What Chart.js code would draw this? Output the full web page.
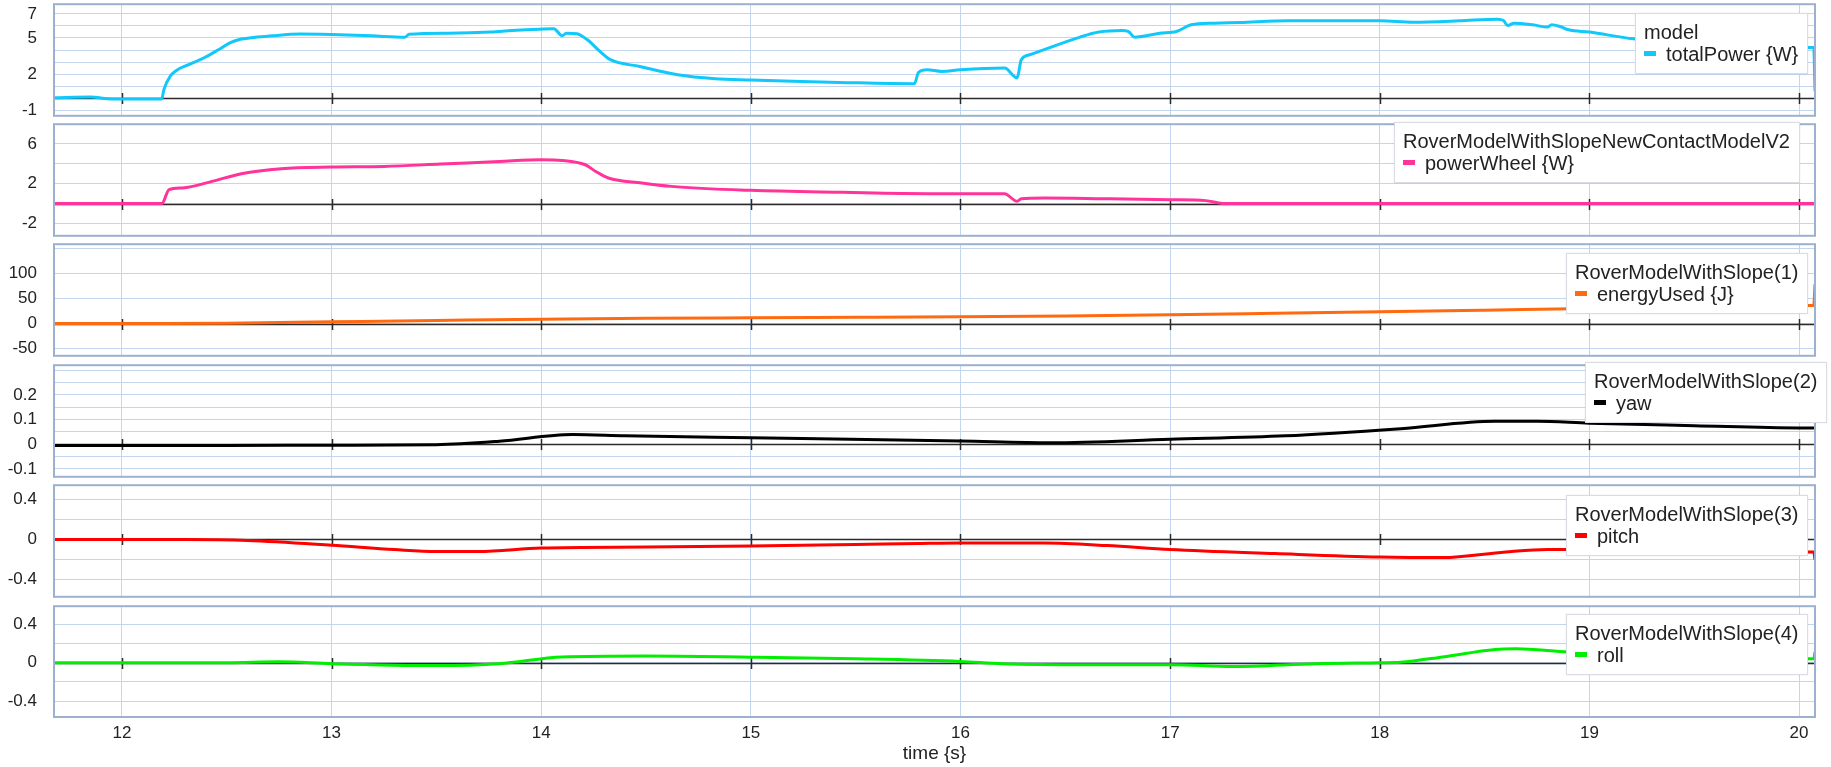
<!DOCTYPE html>
<html>
<head>
<meta charset="utf-8">
<script src="https://cdn.jsdelivr.net/npm/chart.js@4/dist/chart.umd.min.js"></script>
<style>
  html, body { margin: 0; padding: 0; background: #fff; }
  body { width: 1831px; height: 767px; position: relative; overflow: hidden;
         font-family: "Liberation Sans", Arial, sans-serif; }
  canvas { position: absolute; }
  .lg { position: absolute; background: #fff; border: 1px solid #d9dde3;
        box-shadow: 0 0 2px rgba(0,0,0,0.08);
        font-size: 20px; line-height: 22px; color: #222; padding: 7px 9px 8px 8px;
        white-space: nowrap; box-sizing: border-box; }
  .lg .sw { display: inline-block; width: 12px; height: 5px; margin-right: 10px; vertical-align: 5px; }
</style>
</head>
<body>
<script>
// ---- time axis ----
const timeTicks = [12, 13, 14, 15, 16, 17, 18, 19, 20];
const timeMin = 11.676, timeMax = 20.076;

// ---- model.totalPower {W} ----
const totalPowerT = [11.676, 11.85, 11.95, 12.19, 12.20, 12.23, 12.26, 12.31, 12.39, 12.46, 12.52, 12.57, 12.72, 12.85, 13.0, 13.19, 13.35, 13.37, 13.56, 13.76, 13.86, 13.99, 14.06, 14.10, 14.12, 14.17, 14.22, 14.28, 14.33, 14.47, 14.65, 14.83, 15.0, 15.2, 15.42, 15.78, 15.80, 15.84, 15.91, 16.0, 16.21, 16.27, 16.29, 16.33, 16.57, 16.66, 16.77, 16.80, 16.83, 16.95, 17.03, 17.1, 17.21, 17.33, 17.56, 18.0, 18.16, 18.38, 18.56, 18.59, 18.61, 18.64, 18.73, 18.80, 18.82, 18.86, 18.9, 19.0, 19.21, 19.5, 19.8, 20.04, 20.07, 20.076];
const totalPowerW = [0.05, 0.1, -0.05, -0.05, 0.72, 1.82, 2.31, 2.73, 3.34, 4.02, 4.63, 4.91, 5.18, 5.32, 5.28, 5.18, 5.07, 5.3, 5.4, 5.5, 5.62, 5.73, 5.76, 5.18, 5.4, 5.35, 4.85, 3.89, 3.2, 2.64, 1.96, 1.63, 1.52, 1.41, 1.32, 1.21, 2.15, 2.37, 2.23, 2.37, 2.51, 1.69, 3.2, 3.61, 5.07, 5.49, 5.62, 5.55, 5.07, 5.4, 5.54, 6.09, 6.23, 6.28, 6.42, 6.42, 6.31, 6.42, 6.56, 6.45, 6.03, 6.23, 6.09, 5.9, 6.1, 5.95, 5.68, 5.49, 4.93, 4.65, 4.4, 4.22, 4.22, 0.58];

// ---- RoverModelWithSlopeNewContactModelV2.powerWheel {W} ----
const powerWheelT = [11.676, 12.19, 12.225, 12.29, 12.43, 12.57, 12.76, 13.0, 13.25, 13.52, 13.8, 14.0, 14.1, 14.21, 14.26, 14.32, 14.48, 14.62, 15.0, 15.44, 15.85, 16.21, 16.27, 16.29, 16.4, 16.68, 17.0, 17.17, 17.25, 17.3, 20.076];
const powerWheelW = [0, 0, 1.4, 1.57, 2.23, 3.0, 3.5, 3.67, 3.73, 3.97, 4.23, 4.4, 4.33, 3.9, 3.23, 2.57, 2.07, 1.73, 1.33, 1.13, 1.0, 1.0, 0.23, 0.5, 0.57, 0.5, 0.4, 0.3, 0.02, 0, 0];

// ---- RoverModelWithSlope(1).energyUsed {J} ----
const energyT = [11.676, 12.2, 12.5, 13.0, 13.5, 14.0, 14.5, 15.0, 15.5, 16.0, 16.5, 17.0, 17.5, 18.0, 18.5, 19.0, 19.5, 20.04, 20.07, 20.076];
const energyJ = [0, 0, 0.8, 3.5, 6.2, 8.8, 10.6, 11.6, 12.4, 13.4, 15.0, 17.5, 20.5, 23.6, 26.8, 30.0, 32.8, 36, 36, 79];

// ---- RoverModelWithSlope(2).yaw ----
const yawT = [11.676, 12.5, 13.0, 13.5, 13.8, 14.15, 14.4, 15.0, 15.32, 16.0, 16.43, 17.0, 17.55, 18.1, 18.55, 18.75, 19.0, 19.5, 20.0, 20.076];
const yawV = [-0.005, -0.005, -0.004, -0.002, 0.012, 0.039, 0.034, 0.026, 0.022, 0.013, 0.006, 0.02, 0.034, 0.063, 0.093, 0.093, 0.085, 0.075, 0.066, 0.066];

// ---- RoverModelWithSlope(3).pitch ----
const pitchT = [11.676, 12.3, 12.6, 13.0, 13.3, 13.5, 13.7, 14.0, 14.5, 15.0, 15.5, 15.8, 16.0, 16.4, 16.7, 17.0, 17.5, 18.0, 18.3, 18.6, 18.8, 19.0, 19.5, 20.04, 20.07, 20.076];
const pitchV = [0, 0, -0.01, -0.057, -0.1, -0.12, -0.12, -0.085, -0.075, -0.065, -0.05, -0.04, -0.035, -0.035, -0.06, -0.1, -0.14, -0.174, -0.18, -0.124, -0.1, -0.1, -0.11, -0.124, -0.124, -0.2];

// ---- RoverModelWithSlope(4).roll ----
const rollT = [11.676, 12.5, 12.75, 13.0, 13.5, 13.8, 14.1, 14.5, 15.0, 15.5, 16.0, 16.2, 16.6, 17.0, 17.3, 17.7, 18.0, 18.1, 18.3, 18.55, 18.65, 18.9, 19.2, 19.6, 20.04, 20.07, 20.076];
const rollV = [0, 0, 0.01, -0.01, -0.03, -0.01, 0.06, 0.07, 0.058, 0.041, 0.013, -0.01, -0.02, -0.02, -0.04, -0.01, 0.0, 0.005, 0.06, 0.138, 0.145, 0.11, 0.09, 0.06, 0.04, 0.04, 0.11];

// ---- value-axis grid values and labelled ticks per plot ----
const powerGrid = [-1, 0, 1, 2, 3, 4, 5, 6, 7];
const powerLabels = [7, 5, 2, -1];
const wheelGrid = [-2, 0, 2, 4, 6];
const wheelLabels = [6, 2, -2];
const energyGrid = [-50, 0, 50, 100, 150];
const energyLabels = [100, 50, 0, -50];
const yawGrid = [-0.1, -0.05, 0, 0.05, 0.1, 0.15, 0.2, 0.25, 0.3];
const yawLabels = [0.2, 0.1, 0, -0.1];
const angleGrid = [-0.4, -0.2, 0, 0.2, 0.4];
const angleLabels = [0.4, 0, -0.4];

const pair = (ts, vs) => ts.map((t, i) => ({ x: t, y: vs[i] }));

const FONT = '"Liberation Sans", Arial, sans-serif';
const GRID = '#c3d6ee';
const FRAME = '#9cb1cf';
const AREA_LEFT = 54, AREA_RIGHT = 1815, PAGE_H = 767;

const plots = [
  { top: 4,   bottom: 116, min: -1.45, max: 7.8,  grid: powerGrid,  labels: powerLabels,  data: pair(totalPowerT, totalPowerW), color: '#10c8fa',
    legend: { title: 'model', item: 'totalPower {W}', left: 1635, top: 13 } },
  { top: 124, bottom: 236, min: -3.23, max: 7.97, grid: wheelGrid,  labels: wheelLabels,  data: pair(powerWheelT, powerWheelW), color: '#ff3399',
    legend: { title: 'RoverModelWithSlopeNewContactModelV2', item: 'powerWheel {W}', left: 1394, top: 122 } },
  { top: 244, bottom: 356, min: -64.6, max: 159,  grid: energyGrid, labels: energyLabels, data: pair(energyT, energyJ), color: '#ff6a10',
    legend: { title: 'RoverModelWithSlope(1)', item: 'energyUsed {J}', left: 1566, top: 253 } },
  { top: 365, bottom: 477, min: -0.132, max: 0.32, grid: yawGrid,  labels: yawLabels,    data: pair(yawT, yawV), color: '#000000',
    legend: { title: 'RoverModelWithSlope(2)', item: 'yaw', left: 1585, top: 362 } },
  { top: 485, bottom: 597, min: -0.569, max: 0.539, grid: angleGrid, labels: angleLabels, data: pair(pitchT, pitchV), color: '#ff0000',
    legend: { title: 'RoverModelWithSlope(3)', item: 'pitch', left: 1566, top: 495 } },
  { top: 606, bottom: 717, min: -0.565, max: 0.588, grid: angleGrid, labels: angleLabels, data: pair(rollT, rollV), color: '#00ee00',
    legend: { title: 'RoverModelWithSlope(4)', item: 'roll', left: 1566, top: 614 } }
];

// zero line with the time ticks, plus the frame round each plot
const axisDecor = {
  id: 'axisDecor',
  beforeDatasetsDraw(chart) {
    const { ctx, chartArea: a, scales: { x, y } } = chart;
    const y0 = Math.round(y.getPixelForValue(0)) + 0.5;
    ctx.save();
    ctx.strokeStyle = '#2b2b2b';
    ctx.lineWidth = 1.5;
    ctx.beginPath();
    ctx.moveTo(a.left, y0); ctx.lineTo(a.right, y0);
    timeTicks.forEach(t => {
      const px = Math.round(x.getPixelForValue(t)) + 0.5;
      ctx.moveTo(px, y0 - 5.5); ctx.lineTo(px, y0 + 5.5);
    });
    ctx.stroke();
    ctx.restore();
  },
  afterDraw(chart) {
    const { ctx, chartArea: a } = chart;
    ctx.save();
    ctx.strokeStyle = FRAME;
    ctx.lineWidth = 2;
    ctx.strokeRect(a.left, a.top, a.right - a.left, a.bottom - a.top);
    ctx.restore();
  }
};

function chartConfig(p, last) {
  return {
    type: 'line',
    data: { datasets: [{ data: p.data, borderColor: p.color, borderWidth: 3, pointRadius: 0,
                         cubicInterpolationMode: 'monotone', fill: false, borderJoinStyle: 'round' }] },
    options: {
      responsive: false, maintainAspectRatio: false, animation: false, devicePixelRatio: 1,
      layout: { padding: { top: 12, bottom: last ? 0 : 12, left: 0, right: 8 } },
      plugins: { legend: { display: false }, tooltip: { enabled: false } },
      scales: {
        x: {
          type: 'linear', min: timeMin, max: timeMax,
          afterBuildTicks: s => { s.ticks = timeTicks.map(v => ({ value: v })); },
          afterFit: s => { s.height = last ? PAGE_H - p.bottom : 0; },
          grid: { color: GRID, lineWidth: 1, drawTicks: false },
          border: { display: false },
          ticks: { display: last, padding: 6, color: '#222', font: { family: FONT, size: 17 }, maxRotation: 0, autoSkip: false },
          title: { display: last, text: 'time {s}', color: '#222', font: { family: FONT, size: 19 }, padding: { top: 0, bottom: 2 } }
        },
        y: {
          min: p.min, max: p.max,
          afterBuildTicks: s => { s.ticks = p.grid.map(v => ({ value: v })); },
          afterFit: s => { s.width = AREA_LEFT; },
          grid: { color: GRID, lineWidth: 1, drawTicks: false },
          border: { display: false },
          ticks: {
            autoSkip: false, padding: 17, color: '#222', font: { family: FONT, size: 17 },
            callback: v => p.labels.some(l => Math.abs(l - v) < 1e-9) ? String(+v.toFixed(3)) : ''
          }
        }
      }
    },
    plugins: [axisDecor]
  };
}

function makeCanvas(w, h, left, top) {
  const cv = document.createElement('canvas');
  cv.width = w; cv.height = h;
  cv.style.width = w + 'px'; cv.style.height = h + 'px';
  cv.style.left = left + 'px'; cv.style.top = top + 'px';
  document.body.appendChild(cv);
  return cv;
}

plots.forEach((p, i) => {
  const last = i === plots.length - 1;

  // first pass: find how far the plot area sits from the canvas edges
  const probeW = 1831, probeH = 200;
  const probe = makeCanvas(probeW, probeH, 0, 0);
  const pc = new Chart(probe, chartConfig(p, last));
  const a = pc.chartArea;
  const offL = a.left, offT = a.top, offR = probeW - a.right, offB = probeH - a.bottom;
  pc.destroy();
  probe.remove();

  // second pass: size and place the canvas so the plot area lands on its box
  const w = Math.round(offL + (AREA_RIGHT - AREA_LEFT) + offR);
  const h = Math.round(offT + (p.bottom - p.top) + offB);
  const cv = makeCanvas(w, h, Math.round(AREA_LEFT - offL), Math.round(p.top - offT));
  new Chart(cv, chartConfig(p, last));

  const lg = document.createElement('div');
  lg.className = 'lg';
  lg.style.left = p.legend.left + 'px';
  lg.style.top = p.legend.top + 'px';
  const t1 = document.createElement('div');
  t1.textContent = p.legend.title;
  const t2 = document.createElement('div');
  const sw = document.createElement('span');
  sw.className = 'sw'; sw.style.background = p.color;
  t2.appendChild(sw);
  t2.appendChild(document.createTextNode(p.legend.item));
  lg.appendChild(t1); lg.appendChild(t2);
  document.body.appendChild(lg);
});
</script>
</body>
</html>
